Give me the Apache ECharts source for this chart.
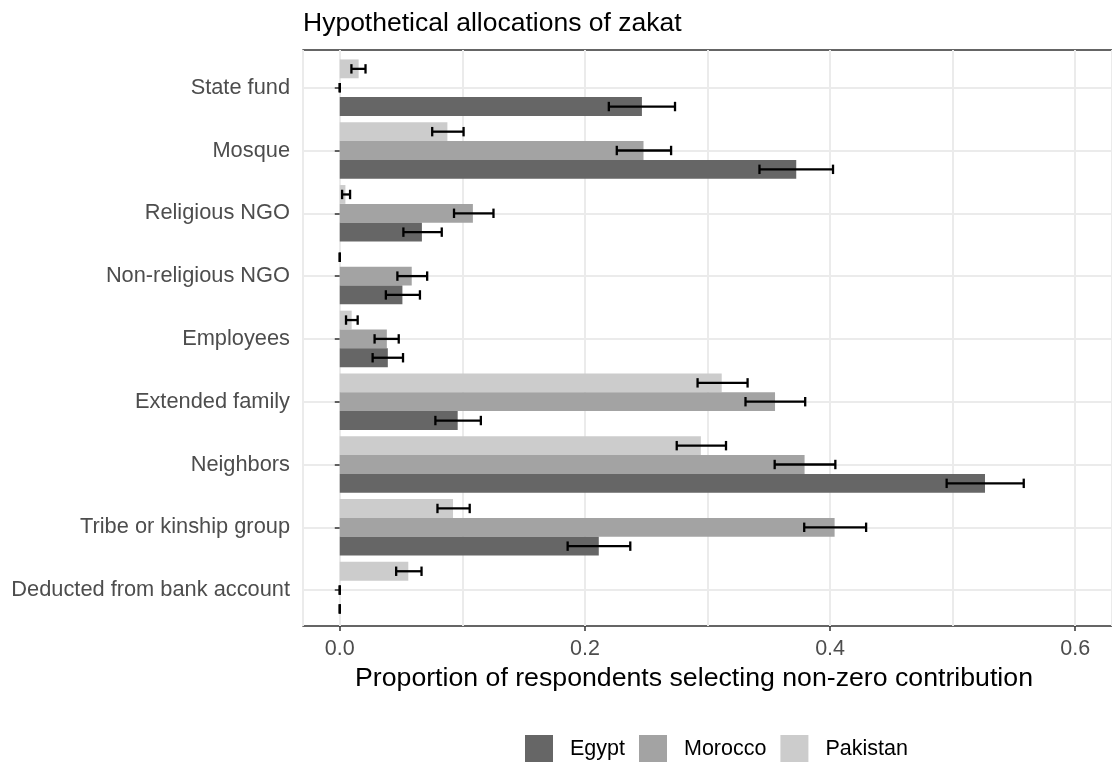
<!DOCTYPE html>
<html>
<head>
<meta charset="utf-8">
<script src="https://cdn.jsdelivr.net/npm/echarts@6/dist/echarts.min.js"></script>
<style>
html, body { margin: 0; padding: 0; background: #fff; }
#chart { width: 1112px; height: 762px; }
</style>
</head>
<body>
<div id="chart"></div>
<script>
// categories, bottom to top
const categories = ['Deducted from bank account', 'Tribe or kinship group', 'Neighbors', 'Extended family',
  'Employees', 'Non-religious NGO', 'Religious NGO', 'Mosque', 'State fund']

const egypt = [0, 0.2113, 0.5264, 0.0962, 0.0392, 0.0511, 0.067, 0.3724, 0.2465]
const egyptLow = [0, 0.1859, 0.4951, 0.078, 0.0268, 0.0376, 0.0519, 0.3424, 0.2195]
const egyptHigh = [0, 0.237, 0.558, 0.1151, 0.0516, 0.0654, 0.0832, 0.4024, 0.2735]

const morocco = [0, 0.4037, 0.3792, 0.3551, 0.0384, 0.0587, 0.1086, 0.2478, 0]
const moroccoLow = [0, 0.3789, 0.3548, 0.331, 0.0284, 0.047, 0.0932, 0.226, 0]
const moroccoHigh = [0, 0.4294, 0.4043, 0.3797, 0.0481, 0.0713, 0.1254, 0.2703, 0]

const pakistan = [0.0559, 0.0924, 0.2946, 0.3116, 0.0097, 0, 0.0046, 0.0878, 0.0154]
const pakistanLow = [0.046, 0.0797, 0.2749, 0.2919, 0.0051, 0, 0.0019, 0.0754, 0.0095]
const pakistanHigh = [0.0667, 0.106, 0.3151, 0.3327, 0.0146, 0, 0.0084, 0.101, 0.021]

const xTicks = [0, 0.2, 0.4, 0.6]
const xMin = -0.03
const xMax = 0.63
const fillColors = { Egypt: '#666666', Morocco: '#A3A3A3', Pakistan: '#CCCCCC' }
const font = 'Liberation Sans, Arial, sans-serif'

// error bars on top of the dodged bars; shift -1 = upper bar, 0 = middle, 1 = lower bar
function errorBars(shift) {
  return function (params, api) {
    let cat = api.value(0)
    let lo = api.coord([api.value(1), cat])
    let hi = api.coord([api.value(2), cat])
    let band = api.size([0, 1])[1]
    let barH = band * 0.9 / 3
    let y = lo[1] + shift * barH
    let cap = barH * 0.25
    let style = { stroke: '#000', lineWidth: 2.3 }
    return {
      type: 'group',
      children: [
        { type: 'line', shape: { x1: lo[0], y1: y, x2: hi[0], y2: y }, style },
        { type: 'line', shape: { x1: lo[0], y1: y - cap, x2: lo[0], y2: y + cap }, style },
        { type: 'line', shape: { x1: hi[0], y1: y - cap, x2: hi[0], y2: y + cap }, style },
      ],
    }
  }
}

function errData(low, high) {
  return low.map((v, i) => [i, v, high[i]])
}

function barSeries(name, data) {
  return {
    name,
    type: 'bar',
    data,
    xAxisIndex: 0,
    yAxisIndex: 0,
    barGap: '0%',
    barCategoryGap: '10%',
    itemStyle: { color: fillColors[name] },
    z: 2,
  }
}

function errSeries(name, low, high, shift) {
  return {
    name: name + ' err',
    type: 'custom',
    xAxisIndex: 0,
    yAxisIndex: 0,
    renderItem: errorBars(shift),
    encode: { x: [1, 2], y: 0 },
    data: errData(low, high),
    z: 3,
    silent: true,
  }
}

var myChart = echarts.init(document.getElementById('chart'))
var option = {
  backgroundColor: '#fff',
  animation: false,
  textStyle: { fontFamily: font },
  title: {
    text: 'Hypothetical allocations of zakat',
    left: 303,
    top: 10,
    padding: 0,
    textStyle: { fontFamily: font, fontSize: 26.5, fontWeight: 'normal', color: '#000' },
  },
  legend: {
    data: ['Egypt', 'Morocco', 'Pakistan'],
    left: 525,
    top: 735,
    padding: 0,
    icon: 'rect',
    itemWidth: 28,
    itemHeight: 28,
    itemGap: 14,
    textStyle: { fontFamily: font, fontSize: 21.5, color: '#000', padding: [0, 0, 0, 12] },
  },
  // grid 0 holds the bars (ggplot's 0.6 category padding), grid 1 is the full panel
  grid: [
    { left: 303, right: -5, top: 56.3, bottom: 140.5, show: false },
    {
      left: 303, right: -5, top: 50, bottom: 136,
      show: true, borderColor: '#333333', borderWidth: 1.3,
    },
  ],
  xAxis: [
    {
      type: 'value',
      gridIndex: 0,
      min: xMin,
      max: xMax,
      show: false,
      splitLine: { show: false },
    },
    {
      type: 'value',
      gridIndex: 1,
      position: 'bottom',
      min: xMin,
      max: xMax,
      splitNumber: 6,
      axisLine: { show: false },
      axisTick: { show: false },
      axisLabel: { show: false },
      splitLine: { show: true, lineStyle: { color: '#EBEBEB', width: 2 } },
    },
    {
      type: 'value',
      gridIndex: 1,
      position: 'bottom',
      min: xMin,
      max: xMax,
      axisLine: { show: false },
      axisTick: { show: true, length: 5, customValues: xTicks, lineStyle: { color: '#333333', width: 1.5 } },
      axisLabel: {
        customValues: xTicks,
        formatter: (v) => v.toFixed(1),
        fontFamily: font,
        fontSize: 21.5,
        color: '#4D4D4D',
        margin: 12,
      },
      splitLine: { show: false },
      name: 'Proportion of respondents selecting non-zero contribution',
      nameLocation: 'middle',
      nameGap: 38,
      nameTextStyle: { fontFamily: font, fontSize: 26.7, color: '#000', padding: [0, 27, 0, 0] },
    },
  ],
  yAxis: [
    {
      type: 'category',
      gridIndex: 0,
      data: categories,
      axisLine: { show: false },
      axisTick: { show: true, length: 5, alignWithLabel: true, lineStyle: { color: '#333333', width: 1.5 } },
      axisLabel: { fontFamily: font, fontSize: 21.8, color: '#4D4D4D', margin: 13 },
      splitLine: { show: true, alignWithLabel: true, lineStyle: { color: '#EBEBEB', width: 2 } },
    },
    {
      type: 'value',
      gridIndex: 1,
      show: false,
      splitLine: { show: false },
    },
  ],
  series: [
    barSeries('Pakistan', pakistan),
    barSeries('Morocco', morocco),
    barSeries('Egypt', egypt),
    errSeries('Pakistan', pakistanLow, pakistanHigh, -1),
    errSeries('Morocco', moroccoLow, moroccoHigh, 0),
    errSeries('Egypt', egyptLow, egyptHigh, 1),
  ],
}
myChart.setOption(option)
</script>
</body>
</html>
